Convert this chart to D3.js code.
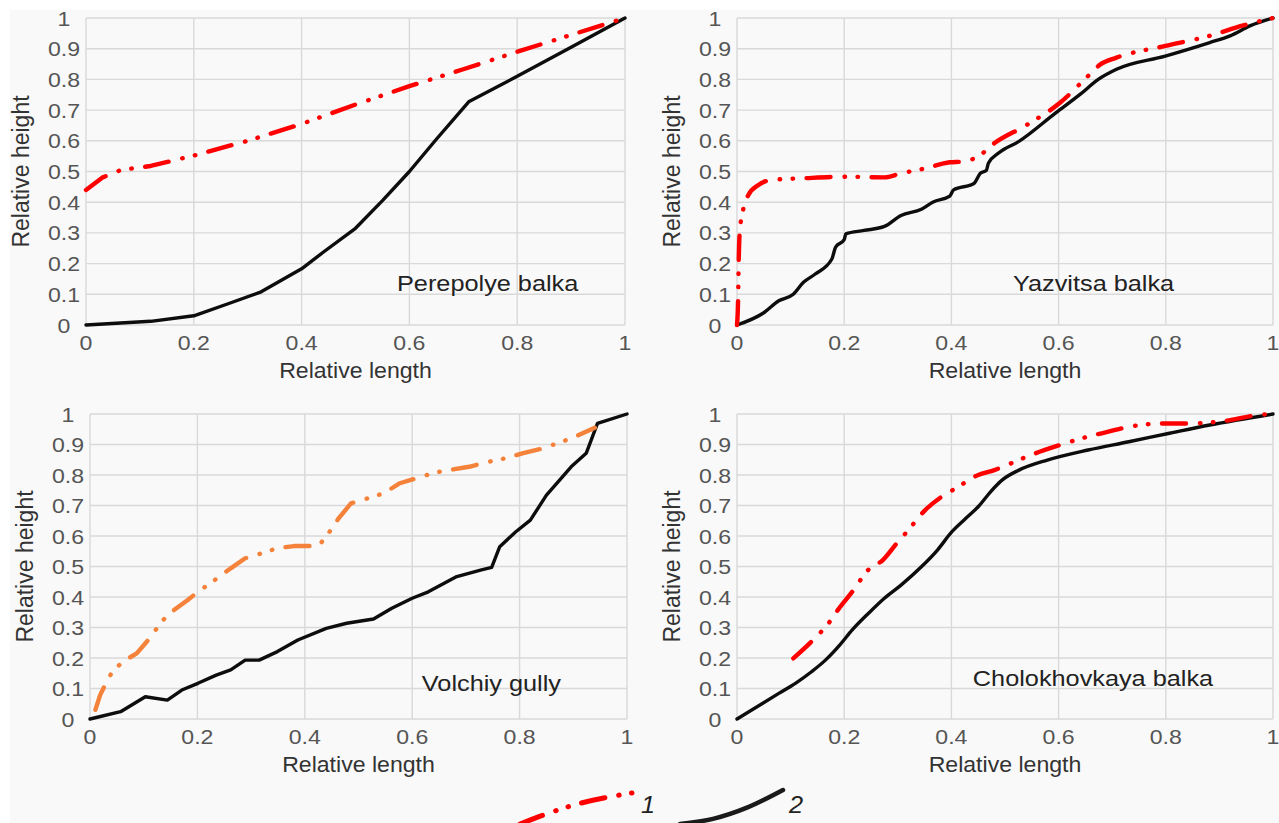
<!DOCTYPE html>
<html>
<head>
<meta charset="utf-8">
<script src="https://cdn.jsdelivr.net/npm/d3@7/dist/d3.min.js"></script>
<style>
  html, body { margin: 0; padding: 0; background: #ffffff; }
  svg { display: block; }
  text { font-family: "Liberation Sans", Arial, sans-serif; }
</style>
</head>
<body>
<svg id="chart" width="1279" height="823"></svg>
<script>
// ---- Data: relative longitudinal profiles of four gullies ----
const xTicks = [0, 0.2, 0.4, 0.6, 0.8, 1];
const yTicks = [0, 0.1, 0.2, 0.3, 0.4, 0.5, 0.6, 0.7, 0.8, 0.9, 1];
const xTickLabels = ["0", "0.2", "0.4", "0.6", "0.8", "1"];
const yTickLabels = ["0", "0.1", "0.2", "0.3", "0.4", "0.5", "0.6", "0.7", "0.8", "0.9", "1"];
const panelNames = ["Perepolye balka", "Yazvitsa balka", "Volchiy gully", "Cholokhovkaya balka"];
const legendLabels = ["1", "2"];

// series 1 (dash-dot-dot) and series 2 (solid) for each gully, [relative length, relative height]
const perepolye1 = [[0,0.44],[0.03,0.48],[0.065,0.505],[0.12,0.518],[0.2,0.552],[0.3,0.6],[0.4,0.655],
  [0.5,0.718],[0.6,0.778],[0.7,0.833],[0.8,0.89],[0.9,0.945],[1,1]];
const perepolye2 = [[0,0],[0.12,0.012],[0.2,0.03],[0.265,0.07],[0.325,0.108],[0.4,0.183],[0.44,0.237],
  [0.5,0.315],[0.55,0.405],[0.6,0.5],[0.65,0.605],[0.71,0.727],[0.8,0.81],[0.9,0.905],[1,1]];

const yazvitsa1 = [[0,0],[0.002,0.08],[0.003,0.19],[0.005,0.3],[0.012,0.38],[0.021,0.423],[0.04,0.456],
  [0.063,0.472],[0.124,0.478],[0.2,0.483],[0.275,0.481],[0.306,0.494],[0.351,0.51],[0.397,0.53],
  [0.42,0.532],[0.45,0.549],[0.48,0.592],[0.541,0.652],[0.602,0.723],[0.655,0.811],[0.678,0.849],
  [0.708,0.871],[0.799,0.909],[0.882,0.942],[0.943,0.975],[1,1]];
const yazvitsa2 = [[0,0],[0.05,0.04],[0.078,0.079],[0.105,0.1],[0.124,0.139],[0.146,0.166],[0.177,0.215],
  [0.184,0.254],[0.2,0.278],[0.203,0.297],[0.237,0.308],[0.275,0.321],[0.306,0.357],[0.344,0.377],
  [0.366,0.401],[0.397,0.42],[0.404,0.44],[0.442,0.461],[0.454,0.494],[0.465,0.503],[0.469,0.527],
  [0.488,0.56],[0.526,0.598],[0.594,0.69],[0.64,0.751],[0.674,0.8],[0.708,0.833],[0.799,0.876],
  [0.882,0.92],[0.92,0.942],[0.958,0.975],[1,1]];

const volchiy1 = [[0.01,0.03],[0.019,0.079],[0.034,0.133],[0.042,0.155],[0.061,0.188],[0.087,0.215],
  [0.106,0.254],[0.129,0.308],[0.144,0.341],[0.182,0.39],[0.201,0.417],[0.228,0.45],[0.262,0.494],
  [0.289,0.527],[0.319,0.543],[0.349,0.56],[0.38,0.567],[0.425,0.567],[0.44,0.598],[0.463,0.658],
  [0.486,0.707],[0.516,0.723],[0.547,0.74],[0.577,0.773],[0.607,0.789],[0.642,0.808],[0.668,0.816],
  [0.706,0.827],[0.744,0.844],[0.774,0.855],[0.805,0.871],[0.843,0.887],[0.896,0.92],[0.94,0.955]];
const volchiy2 = [[0,0],[0.057,0.024],[0.103,0.073],[0.144,0.062],[0.171,0.095],[0.201,0.117],[0.235,0.144],
  [0.262,0.161],[0.289,0.193],[0.315,0.193],[0.349,0.221],[0.387,0.259],[0.44,0.297],[0.478,0.314],
  [0.528,0.328],[0.562,0.363],[0.6,0.396],[0.63,0.417],[0.683,0.467],[0.729,0.489],[0.748,0.497],
  [0.763,0.565],[0.793,0.614],[0.82,0.652],[0.85,0.734],[0.896,0.827],[0.924,0.871],[0.945,0.969],[1,1]];

const cholokhovka1 = [[0.105,0.199],[0.139,0.254],[0.173,0.319],[0.188,0.357],[0.215,0.417],[0.245,0.489],
  [0.272,0.521],[0.298,0.576],[0.317,0.614],[0.351,0.685],[0.382,0.729],[0.408,0.756],[0.45,0.8],
  [0.48,0.816],[0.511,0.838],[0.549,0.866],[0.602,0.898],[0.655,0.926],[0.693,0.942],[0.731,0.958],
  [0.799,0.969],[0.844,0.969],[0.92,0.98],[0.973,0.997],[1,1]];
const cholokhovka2 = [[0,0],[0.078,0.084],[0.109,0.117],[0.139,0.155],[0.165,0.193],[0.192,0.243],
  [0.215,0.292],[0.245,0.346],[0.275,0.396],[0.306,0.439],[0.344,0.499],[0.374,0.554],[0.401,0.614],
  [0.427,0.658],[0.45,0.696],[0.473,0.745],[0.495,0.784],[0.526,0.816],[0.579,0.849],[0.655,0.882],
  [0.731,0.909],[0.807,0.937],[0.882,0.964],[1,1]];

// legend sample strokes, relative shape inside their swatch boxes
const legendSwatch1 = [[0,0],[0.24,0.33],[0.54,0.67],[1,1]];
const legendSwatch2 = [[0,0],[0.32,0.15],[0.65,0.48],[1,1]];

// ---- Layout ----
const panels = [
  { name: panelNames[0], s1: perepolye1, s2: perepolye2, c1: "#ff0000", left: 86,  right: 625,  top: 18,  bottom: 325, label: [0.577, 0.137], smooth: false },
  { name: panelNames[1], s1: yazvitsa1,  s2: yazvitsa2,  c1: "#ff0000", left: 737, right: 1273, top: 18,  bottom: 325, label: [0.515, 0.137], smooth: true },
  { name: panelNames[2], s1: volchiy1,   s2: volchiy2,   c1: "#f5823a", left: 90,  right: 627,  top: 414, bottom: 719, label: [0.618, 0.118], smooth: false },
  { name: panelNames[3], s1: cholokhovka1, s2: cholokhovka2, c1: "#ff0000", left: 737, right: 1273, top: 414, bottom: 719, label: [0.44, 0.134], smooth: true }
];

const svg = d3.select("#chart");
svg.append("rect").attr("x", 10).attr("y", 10).attr("width", 1269).attr("height", 813).attr("fill", "#f9f9f9");

const dashDotDot = "24 14 0.5 12.5 0.5 13.5";

function stretchedText(g, x, y, str, opts) {
  const t = g.append("g").attr("transform", `translate(${x},${y}) scale(${opts.sx || 1},1)`)
    .append("text")
    .attr("x", 0).attr("y", 0)
    .attr("font-size", opts.size)
    .attr("fill", opts.fill)
    .attr("text-anchor", opts.anchor || "middle")
    .text(str);
  if (opts.dy) t.attr("dy", opts.dy);
  if (opts.italic) t.attr("font-style", "italic");
  return t;
}

panels.forEach(p => {
  const x = d3.scaleLinear().domain([0, 1]).range([p.left, p.right]);
  const y = d3.scaleLinear().domain([0, 1]).range([p.bottom, p.top]);
  const g = svg.append("g");

  // gridlines
  g.append("g").selectAll("line.v").data(xTicks).join("line")
    .attr("x1", d => x(d)).attr("x2", d => x(d))
    .attr("y1", y(0)).attr("y2", y(1))
    .attr("stroke", "#d9d9d9").attr("stroke-width", 1.4);
  g.append("g").selectAll("line.h").data(yTicks).join("line")
    .attr("x1", x(0)).attr("x2", x(1))
    .attr("y1", d => y(d)).attr("y2", d => y(d))
    .attr("stroke", "#d9d9d9").attr("stroke-width", 1.4);

  // tick labels
  yTicks.forEach((v, i) => stretchedText(g, x(0) - 22, y(v), yTickLabels[i],
    { size: 21, fill: "#555", sx: 1.1, dy: "0.36em" }));
  xTicks.forEach((v, i) => stretchedText(g, x(v), y(0) + 25, xTickLabels[i],
    { size: 21, fill: "#555", sx: 1.1 }));

  // axis titles
  stretchedText(g, (x(0) + x(1)) / 2, y(0) + 53, "Relative length", { size: 22, fill: "#333", sx: 1.05 });
  g.append("text")
    .attr("transform", `translate(${x(0) - 57},${(y(0) + y(1)) / 2}) rotate(-90)`)
    .attr("text-anchor", "middle").attr("font-size", 23).attr("fill", "#333")
    .text("Relative height");

  // gully name
  stretchedText(g, x(p.label[0]), y(p.label[1]), p.name,
    { size: 22, fill: "#222", sx: 1.15, anchor: "start", dy: "0.36em" });

  const line = d3.line().x(d => x(d[0])).y(d => y(d[1]))
    .curve(p.smooth ? d3.curveMonotoneX : d3.curveLinear);

  g.append("path").datum(p.s2).attr("d", line)
    .attr("fill", "none").attr("stroke", "#0d0d0d").attr("stroke-width", 3.4)
    .attr("stroke-linejoin", "round").attr("stroke-linecap", "round");
  g.append("path").datum(p.s1).attr("d", line)
    .attr("fill", "none").attr("stroke", p.c1).attr("stroke-width", 4.4)
    .attr("stroke-dasharray", dashDotDot)
    .attr("stroke-linejoin", "round").attr("stroke-linecap", "round");
});

// ---- Legend ----
const lg = svg.append("g");
const lx1 = d3.scaleLinear().domain([0, 1]).range([520, 632]);
const ly1 = d3.scaleLinear().domain([0, 1]).range([824, 793]);
const lx2 = d3.scaleLinear().domain([0, 1]).range([680, 783]);
const ly2 = d3.scaleLinear().domain([0, 1]).range([824, 790]);
lg.append("path").datum(legendSwatch1)
  .attr("d", d3.line().x(d => lx1(d[0])).y(d => ly1(d[1])).curve(d3.curveMonotoneX))
  .attr("fill", "none").attr("stroke", "#ff0000").attr("stroke-width", 5)
  .attr("stroke-dasharray", dashDotDot).attr("stroke-linecap", "round");
lg.append("path").datum(legendSwatch2)
  .attr("d", d3.line().x(d => lx2(d[0])).y(d => ly2(d[1])).curve(d3.curveMonotoneX))
  .attr("fill", "none").attr("stroke", "#1a1a1a").attr("stroke-width", 4.5)
  .attr("stroke-linecap", "round");
stretchedText(lg, 641, 813, legendLabels[0], { size: 23, fill: "#222", sx: 1.1, anchor: "start", italic: true });
stretchedText(lg, 789, 813, legendLabels[1], { size: 23, fill: "#222", sx: 1.1, anchor: "start", italic: true });
</script>
</body>
</html>
